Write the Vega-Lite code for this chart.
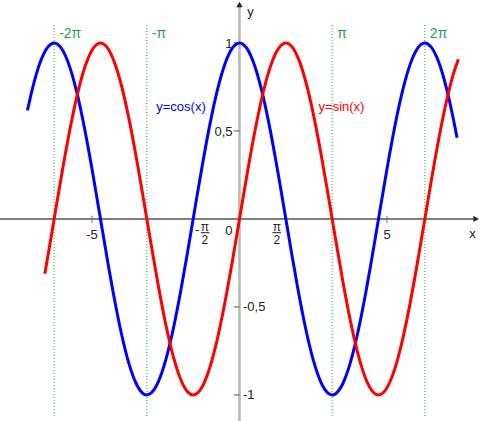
{
  "$schema": "https://vega.github.io/schema/vega-lite/v6.json",
  "width": 480,
  "height": 421,
  "padding": 0,
  "autosize": {"type": "none"},
  "background": "white",
  "config": {"view": {"stroke": null}, "text": {"font": "Liberation Sans", "fontSize": 13, "color": "#222222", "baseline": "middle"}},
  "datasets": {
    "cosData": [
      {"x": -7.19, "y": 0.6165}, {"x": -7.0, "y": 0.7539}, {"x": -6.75, "y": 0.893}, {"x": -6.5, "y": 0.9766},
      {"x": -6.2832, "y": 1}, {"x": -6.0, "y": 0.9602}, {"x": -5.75, "y": 0.8612}, {"x": -5.5, "y": 0.7087},
      {"x": -5.25, "y": 0.5122}, {"x": -5.0, "y": 0.2837}, {"x": -4.75, "y": 0.0376}, {"x": -4.5, "y": -0.2108},
      {"x": -4.25, "y": -0.4461}, {"x": -4.0, "y": -0.6536}, {"x": -3.75, "y": -0.8206}, {"x": -3.5, "y": -0.9365},
      {"x": -3.25, "y": -0.9941}, {"x": -3.1416, "y": -1}, {"x": -3.0, "y": -0.99}, {"x": -2.75, "y": -0.9243},
      {"x": -2.5, "y": -0.8011}, {"x": -2.25, "y": -0.6282}, {"x": -2.0, "y": -0.4161}, {"x": -1.75, "y": -0.1782},
      {"x": -1.5, "y": 0.0707}, {"x": -1.25, "y": 0.3153}, {"x": -1.0, "y": 0.5403}, {"x": -0.75, "y": 0.7317},
      {"x": -0.5, "y": 0.8776}, {"x": -0.25, "y": 0.9689}, {"x": 0, "y": 1}, {"x": 0.25, "y": 0.9689},
      {"x": 0.5, "y": 0.8776}, {"x": 0.75, "y": 0.7317}, {"x": 1.0, "y": 0.5403}, {"x": 1.25, "y": 0.3153},
      {"x": 1.5, "y": 0.0707}, {"x": 1.75, "y": -0.1782}, {"x": 2.0, "y": -0.4161}, {"x": 2.25, "y": -0.6282},
      {"x": 2.5, "y": -0.8011}, {"x": 2.75, "y": -0.9243}, {"x": 3.0, "y": -0.99}, {"x": 3.1416, "y": -1},
      {"x": 3.25, "y": -0.9941}, {"x": 3.5, "y": -0.9365}, {"x": 3.75, "y": -0.8206}, {"x": 4.0, "y": -0.6536},
      {"x": 4.25, "y": -0.4461}, {"x": 4.5, "y": -0.2108}, {"x": 4.75, "y": 0.0376}, {"x": 5.0, "y": 0.2837},
      {"x": 5.25, "y": 0.5122}, {"x": 5.5, "y": 0.7087}, {"x": 5.75, "y": 0.8612}, {"x": 6.0, "y": 0.9602},
      {"x": 6.2832, "y": 1}, {"x": 6.5, "y": 0.9766}, {"x": 6.75, "y": 0.893}, {"x": 7.0, "y": 0.7539},
      {"x": 7.25, "y": 0.5679}, {"x": 7.375, "y": 0.4614}
    ],
    "sinData": [
      {"x": -6.6, "y": -0.3115}, {"x": -6.5, "y": -0.2151}, {"x": -6.25, "y": 0.0332}, {"x": -6.0, "y": 0.2794},
      {"x": -5.75, "y": 0.5083}, {"x": -5.5, "y": 0.7055}, {"x": -5.25, "y": 0.8589}, {"x": -5.0, "y": 0.9589},
      {"x": -4.7124, "y": 1}, {"x": -4.5, "y": 0.9775}, {"x": -4.25, "y": 0.895}, {"x": -4.0, "y": 0.7568},
      {"x": -3.75, "y": 0.5716}, {"x": -3.5, "y": 0.3508}, {"x": -3.25, "y": 0.1082}, {"x": -3.0, "y": -0.1411},
      {"x": -2.75, "y": -0.3817}, {"x": -2.5, "y": -0.5985}, {"x": -2.25, "y": -0.7781}, {"x": -2.0, "y": -0.9093},
      {"x": -1.75, "y": -0.984}, {"x": -1.5708, "y": -1}, {"x": -1.25, "y": -0.949}, {"x": -1.0, "y": -0.8415},
      {"x": -0.75, "y": -0.6816}, {"x": -0.5, "y": -0.4794}, {"x": -0.25, "y": -0.2474}, {"x": 0, "y": 0},
      {"x": 0.25, "y": 0.2474}, {"x": 0.5, "y": 0.4794}, {"x": 0.75, "y": 0.6816}, {"x": 1.0, "y": 0.8415},
      {"x": 1.25, "y": 0.949}, {"x": 1.5708, "y": 1}, {"x": 1.75, "y": 0.984}, {"x": 2.0, "y": 0.9093},
      {"x": 2.25, "y": 0.7781}, {"x": 2.5, "y": 0.5985}, {"x": 2.75, "y": 0.3817}, {"x": 3.0, "y": 0.1411},
      {"x": 3.25, "y": -0.1082}, {"x": 3.5, "y": -0.3508}, {"x": 3.75, "y": -0.5716}, {"x": 4.0, "y": -0.7568},
      {"x": 4.25, "y": -0.895}, {"x": 4.4, "y": -0.9516}, {"x": 4.7124, "y": -1}, {"x": 5.0, "y": -0.9589},
      {"x": 5.25, "y": -0.8589}, {"x": 5.5, "y": -0.7055}, {"x": 5.75, "y": -0.5083}, {"x": 6.0, "y": -0.2794},
      {"x": 6.25, "y": -0.0332}, {"x": 6.5, "y": 0.2151}, {"x": 6.75, "y": 0.45}, {"x": 7.0, "y": 0.657},
      {"x": 7.25, "y": 0.8231}, {"x": 7.42, "y": 0.9072}
    ]
  },
  "layer": [
    {
      "data": {"values": [{"x": -6.2832}, {"x": -3.1416}, {"x": 3.1416}, {"x": 6.2832}]},
      "mark": {"type": "rule", "color": "#2aa050", "strokeWidth": 1, "strokeDash": [1, 2]},
      "encoding": {
        "x": {"field": "x", "type": "quantitative", "scale": {"domain": [-8.119, 8.153], "nice": false, "zero": false}, "axis": null},
        "y": {"datum": 1.102, "type": "quantitative", "scale": {"domain": [-1.148, 1.244], "nice": false, "zero": false}, "axis": null},
        "y2": {"datum": -1.125}
      }
    },
    {
      "data": {"values": [{}]},
      "mark": {"type": "rule", "color": "#555555", "strokeWidth": 1.5},
      "encoding": {
        "x": {"datum": -8.119, "type": "quantitative", "scale": {"domain": [-8.119, 8.153], "nice": false, "zero": false}, "axis": null},
        "x2": {"datum": 7.92},
        "y": {"datum": 0, "type": "quantitative", "scale": {"domain": [-1.148, 1.244], "nice": false, "zero": false}, "axis": null}
      }
    },
    {
      "data": {"values": [{}]},
      "mark": {"type": "rule", "color": "#b0bbb0", "strokeWidth": 2.5},
      "encoding": {
        "x": {"datum": 0, "type": "quantitative", "scale": {"domain": [-8.119, 8.153], "nice": false, "zero": false}, "axis": null},
        "y": {"datum": -1.148, "type": "quantitative", "scale": {"domain": [-1.148, 1.244], "nice": false, "zero": false}, "axis": null},
        "y2": {"datum": 1.204}
      }
    },
    {
      "data": {"values": [{"x": -5}, {"x": 5}]},
      "mark": {"type": "rule", "color": "#777777", "strokeWidth": 1},
      "encoding": {
        "x": {"field": "x", "type": "quantitative", "scale": {"domain": [-8.119, 8.153], "nice": false, "zero": false}, "axis": null},
        "y": {"datum": 0.018, "type": "quantitative", "scale": {"domain": [-1.148, 1.244], "nice": false, "zero": false}, "axis": null},
        "y2": {"datum": -0.023}
      }
    },
    {
      "data": {"values": [{"y": 1}, {"y": 0.5}, {"y": -0.5}, {"y": -1}]},
      "mark": {"type": "rule", "color": "#555555", "strokeWidth": 1},
      "encoding": {
        "x": {"datum": -0.19, "type": "quantitative", "scale": {"domain": [-8.119, 8.153], "nice": false, "zero": false}, "axis": null},
        "x2": {"datum": 0},
        "y": {"field": "y", "type": "quantitative", "scale": {"domain": [-1.148, 1.244], "nice": false, "zero": false}, "axis": null}
      }
    },
    {
      "data": {"values": [{}]},
      "mark": {"type": "point", "shape": "triangle-up", "filled": true, "color": "#222222", "size": 40, "opacity": 1},
      "encoding": {
        "x": {"datum": 0, "type": "quantitative", "scale": {"domain": [-8.119, 8.153], "nice": false, "zero": false}, "axis": null},
        "y": {"datum": 1.218, "type": "quantitative", "scale": {"domain": [-1.148, 1.244], "nice": false, "zero": false}, "axis": null}
      }
    },
    {
      "data": {"values": [{}]},
      "mark": {"type": "point", "shape": "triangle-right", "filled": true, "color": "#222222", "size": 40, "opacity": 1},
      "encoding": {
        "x": {"datum": 8.02, "type": "quantitative", "scale": {"domain": [-8.119, 8.153], "nice": false, "zero": false}, "axis": null},
        "y": {"datum": 0, "type": "quantitative", "scale": {"domain": [-1.148, 1.244], "nice": false, "zero": false}, "axis": null}
      }
    },
    {
      "data": {"name": "cosData"},
      "mark": {"type": "line", "color": "#0000ff", "strokeWidth": 3, "interpolate": "monotone"},
      "encoding": {
        "x": {"field": "x", "type": "quantitative", "scale": {"domain": [-8.119, 8.153], "nice": false, "zero": false}, "axis": null},
        "y": {"field": "y", "type": "quantitative", "scale": {"domain": [-1.148, 1.244], "nice": false, "zero": false}, "axis": null}
      }
    },
    {
      "data": {"name": "sinData"},
      "mark": {"type": "line", "color": "#ff0000", "strokeWidth": 3, "interpolate": "monotone"},
      "encoding": {
        "x": {"field": "x", "type": "quantitative", "scale": {"domain": [-8.119, 8.153], "nice": false, "zero": false}, "axis": null},
        "y": {"field": "y", "type": "quantitative", "scale": {"domain": [-1.148, 1.244], "nice": false, "zero": false}, "axis": null}
      }
    },
    {
      "data": {"values": [{"x": -5, "label": "-5"}, {"x": 5, "label": "5"}]},
      "mark": {"type": "text", "align": "center", "dy": 16},
      "encoding": {
        "x": {"field": "x", "type": "quantitative", "scale": {"domain": [-8.119, 8.153], "nice": false, "zero": false}, "axis": null},
        "y": {"datum": 0, "type": "quantitative", "scale": {"domain": [-1.148, 1.244], "nice": false, "zero": false}, "axis": null},
        "text": {"field": "label"}
      }
    },
    {
      "data": {"values": [{"label": "0"}]},
      "mark": {"type": "text", "align": "right", "dx": -7, "dy": 12},
      "encoding": {
        "x": {"datum": 0, "type": "quantitative", "scale": {"domain": [-8.119, 8.153], "nice": false, "zero": false}, "axis": null},
        "y": {"datum": 0, "type": "quantitative", "scale": {"domain": [-1.148, 1.244], "nice": false, "zero": false}, "axis": null},
        "text": {"field": "label"}
      }
    },
    {
      "data": {"values": [{"label": "-"}]},
      "mark": {"type": "text", "align": "center", "dx": 4, "dy": 11},
      "encoding": {
        "x": {"datum": -1.5708, "type": "quantitative", "scale": {"domain": [-8.119, 8.153], "nice": false, "zero": false}, "axis": null},
        "y": {"datum": 0, "type": "quantitative", "scale": {"domain": [-1.148, 1.244], "nice": false, "zero": false}, "axis": null},
        "text": {"field": "label"}
      }
    },
    {
      "data": {"values": [{"num": "π", "den": "2"}]},
      "layer": [
        {
          "mark": {"type": "text", "align": "center", "fontSize": 12, "dx": 11.8, "dy": 8.5},
          "encoding": {
            "x": {"datum": -1.5708, "type": "quantitative", "scale": {"domain": [-8.119, 8.153], "nice": false, "zero": false}, "axis": null},
            "y": {"datum": 0, "type": "quantitative", "scale": {"domain": [-1.148, 1.244], "nice": false, "zero": false}, "axis": null},
            "text": {"field": "num"}
          }
        },
        {
          "mark": {"type": "text", "align": "center", "fontSize": 12, "dx": 11.8, "dy": 21},
          "encoding": {
            "x": {"datum": -1.5708, "type": "quantitative", "scale": {"domain": [-8.119, 8.153], "nice": false, "zero": false}, "axis": null},
            "y": {"datum": 0, "type": "quantitative", "scale": {"domain": [-1.148, 1.244], "nice": false, "zero": false}, "axis": null},
            "text": {"field": "den"}
          }
        },
        {
          "mark": {"type": "text", "align": "center", "fontSize": 12, "dx": -9, "dy": 8.5},
          "encoding": {
            "x": {"datum": 1.5708, "type": "quantitative", "scale": {"domain": [-8.119, 8.153], "nice": false, "zero": false}, "axis": null},
            "y": {"datum": 0, "type": "quantitative", "scale": {"domain": [-1.148, 1.244], "nice": false, "zero": false}, "axis": null},
            "text": {"field": "num"}
          }
        },
        {
          "mark": {"type": "text", "align": "center", "fontSize": 12, "dx": -9, "dy": 21},
          "encoding": {
            "x": {"datum": 1.5708, "type": "quantitative", "scale": {"domain": [-8.119, 8.153], "nice": false, "zero": false}, "axis": null},
            "y": {"datum": 0, "type": "quantitative", "scale": {"domain": [-1.148, 1.244], "nice": false, "zero": false}, "axis": null},
            "text": {"field": "den"}
          }
        }
      ]
    },
    {
      "data": {"values": [{"a": -1.31, "b": -1.02}, {"a": 1.114, "b": 1.405}]},
      "mark": {"type": "rule", "color": "#222222", "strokeWidth": 1},
      "encoding": {
        "x": {"field": "a", "type": "quantitative", "scale": {"domain": [-8.119, 8.153], "nice": false, "zero": false}, "axis": null},
        "x2": {"field": "b"},
        "y": {"datum": -0.078, "type": "quantitative", "scale": {"domain": [-1.148, 1.244], "nice": false, "zero": false}, "axis": null}
      }
    },
    {
      "data": {"values": [{"y": 1, "label": "1"}, {"y": 0.5, "label": "0,5"}]},
      "mark": {"type": "text", "align": "right", "dx": -7, "dy": 1},
      "encoding": {
        "x": {"datum": 0, "type": "quantitative", "scale": {"domain": [-8.119, 8.153], "nice": false, "zero": false}, "axis": null},
        "y": {"field": "y", "type": "quantitative", "scale": {"domain": [-1.148, 1.244], "nice": false, "zero": false}, "axis": null},
        "text": {"field": "label"}
      }
    },
    {
      "data": {"values": [{"y": -0.5, "label": "-0,5"}, {"y": -1, "label": "-1"}]},
      "mark": {"type": "text", "align": "left", "dx": 3.5, "dy": 0},
      "encoding": {
        "x": {"datum": 0, "type": "quantitative", "scale": {"domain": [-8.119, 8.153], "nice": false, "zero": false}, "axis": null},
        "y": {"field": "y", "type": "quantitative", "scale": {"domain": [-1.148, 1.244], "nice": false, "zero": false}, "axis": null},
        "text": {"field": "label"}
      }
    },
    {
      "data": {"values": [{"label": "x"}]},
      "mark": {"type": "text", "align": "center", "dy": 15},
      "encoding": {
        "x": {"datum": 7.9, "type": "quantitative", "scale": {"domain": [-8.119, 8.153], "nice": false, "zero": false}, "axis": null},
        "y": {"datum": 0, "type": "quantitative", "scale": {"domain": [-1.148, 1.244], "nice": false, "zero": false}, "axis": null},
        "text": {"field": "label"}
      }
    },
    {
      "data": {"values": [{"label": "y"}]},
      "mark": {"type": "text", "align": "center", "dx": 11},
      "encoding": {
        "x": {"datum": 0, "type": "quantitative", "scale": {"domain": [-8.119, 8.153], "nice": false, "zero": false}, "axis": null},
        "y": {"datum": 1.176, "type": "quantitative", "scale": {"domain": [-1.148, 1.244], "nice": false, "zero": false}, "axis": null},
        "text": {"field": "label"}
      }
    },
    {
      "data": {"values": [{"x": -6.2832, "label": "-2π"}, {"x": -3.1416, "label": "-π"}, {"x": 3.1416, "label": "π"}, {"x": 6.2832, "label": "2π"}]},
      "mark": {"type": "text", "align": "left", "dx": 5, "fontSize": 14, "color": "#1f9e46"},
      "encoding": {
        "x": {"field": "x", "type": "quantitative", "scale": {"domain": [-8.119, 8.153], "nice": false, "zero": false}, "axis": null},
        "y": {"datum": 1.051, "type": "quantitative", "scale": {"domain": [-1.148, 1.244], "nice": false, "zero": false}, "axis": null},
        "text": {"field": "label"}
      }
    },
    {
      "data": {"values": [{"x": -1.983, "y": 0.636, "label": "y=cos(x)"}]},
      "mark": {"type": "text", "align": "center", "color": "#0000ff"},
      "encoding": {
        "x": {"field": "x", "type": "quantitative", "scale": {"domain": [-8.119, 8.153], "nice": false, "zero": false}, "axis": null},
        "y": {"field": "y", "type": "quantitative", "scale": {"domain": [-1.148, 1.244], "nice": false, "zero": false}, "axis": null},
        "text": {"field": "label"}
      }
    },
    {
      "data": {"values": [{"x": 3.458, "y": 0.636, "label": "y=sin(x)"}]},
      "mark": {"type": "text", "align": "center", "color": "#ff0000"},
      "encoding": {
        "x": {"field": "x", "type": "quantitative", "scale": {"domain": [-8.119, 8.153], "nice": false, "zero": false}, "axis": null},
        "y": {"field": "y", "type": "quantitative", "scale": {"domain": [-1.148, 1.244], "nice": false, "zero": false}, "axis": null},
        "text": {"field": "label"}
      }
    }
  ]
}
